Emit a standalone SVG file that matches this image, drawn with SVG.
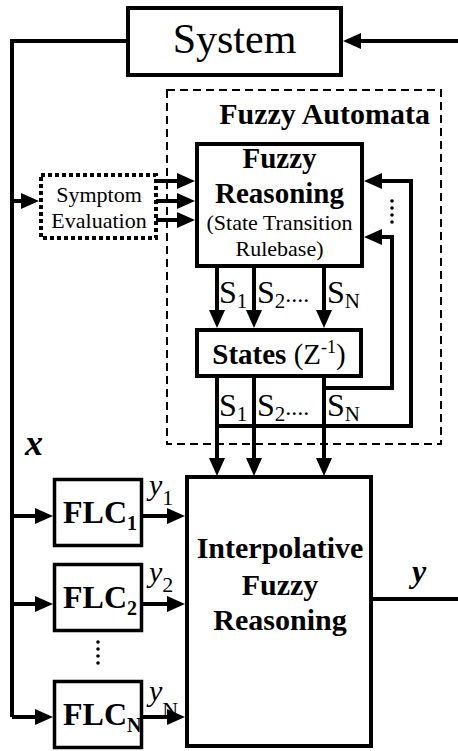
<svg xmlns="http://www.w3.org/2000/svg" width="458" height="751" viewBox="0 0 458 751">
<style>
  text { font-family: "Liberation Serif", "Times New Roman", serif; fill: #000; }
  .b { font-weight: bold; }
  .box { fill: #fff; stroke: #000; stroke-width: 4; }
  .thin { fill: #fff; stroke: #000; stroke-width: 3.5; }
  .ln { fill: none; stroke: #000; stroke-width: 4; }
  .arr { fill: none; stroke: #000; stroke-width: 4; marker-end: url(#ah); }
  .dot { fill: #000; }
</style>
<defs>
  <marker id="ah" markerUnits="userSpaceOnUse" markerWidth="18" markerHeight="16" refX="10" refY="8" orient="auto" overflow="visible">
    <path d="M0,0 L18,8 L0,16 z" fill="#000"/>
  </marker>
</defs>
<rect width="458" height="751" fill="#fff"/>

<g id="fuzzy-automata">
  <rect x="167" y="90" width="274" height="354" fill="none" stroke="#000" stroke-width="2" stroke-dasharray="8,5"/>
  <text class="b" x="430" y="124" font-size="30" text-anchor="end">Fuzzy Automata</text>
</g>

<g id="connectors">
  <path class="ln" d="M126,41 H12 V717"/>
  <path class="arr" d="M458,41 H351"/>
  <path class="arr" d="M12,201 H31"/>
  <path class="arr" d="M156,181 H187"/>
  <path class="arr" d="M156,201 H187"/>
  <path class="arr" d="M156,220 H187"/>
  <path class="arr" d="M217,268 V320"/>
  <path class="arr" d="M254,268 V320"/>
  <path class="arr" d="M324,268 V320"/>
  <path class="arr" d="M217,378 V468"/>
  <path class="arr" d="M254,378 V468"/>
  <path class="arr" d="M324,378 V468"/>
  <path class="arr" d="M217,426 H411 V181 H372"/>
  <path class="arr" d="M324,388 H392 V237 H372"/>
  <path class="arr" d="M12,516 H45"/>
  <path class="arr" d="M12,604 H45"/>
  <path class="arr" d="M12,717 H45"/>
  <path class="arr" d="M143,516 H177"/>
  <path class="arr" d="M143,604 H177"/>
  <path class="arr" d="M143,717 H177"/>
  <path class="ln" d="M373,599 H458"/>
  <circle class="dot" cx="392" cy="201" r="1.8"/>
  <circle class="dot" cx="392" cy="208" r="1.8"/>
  <circle class="dot" cx="392" cy="215" r="1.8"/>
  <circle class="dot" cx="392" cy="222" r="1.8"/>
  <circle class="dot" cx="98" cy="642" r="1.8"/>
  <circle class="dot" cx="98" cy="649" r="1.8"/>
  <circle class="dot" cx="98" cy="656" r="1.8"/>
  <circle class="dot" cx="98" cy="663" r="1.8"/>
  <text x="219" y="303" font-size="32">S<tspan font-size="21" dy="5">1</tspan></text>
  <text x="257" y="303" font-size="32">S<tspan font-size="21" dy="5">2</tspan><tspan font-size="24" dy="-6">....</tspan></text>
  <text x="327" y="303" font-size="32">S<tspan font-size="21" dy="5">N</tspan></text>
  <text x="219" y="416" font-size="32">S<tspan font-size="21" dy="5">1</tspan></text>
  <text x="257" y="416" font-size="32">S<tspan font-size="21" dy="5">2</tspan><tspan font-size="24" dy="-6">....</tspan></text>
  <text x="327" y="416" font-size="32">S<tspan font-size="21" dy="5">N</tspan></text>
  <text class="b" x="25" y="455" font-size="36" font-style="italic">x</text>
  <text x="149" y="495" font-size="30" font-style="italic">y<tspan font-style="normal" font-size="22" dy="10">1</tspan></text>
  <text x="149" y="582" font-size="30" font-style="italic">y<tspan font-style="normal" font-size="22" dy="10">2</tspan></text>
  <text x="149" y="701" font-size="30" font-style="italic">y<tspan font-style="normal" font-size="22" dy="16">N</tspan></text>
  <text class="b" x="412" y="582" font-size="32" font-style="italic">y</text>
</g>

<g id="system">
  <rect class="box" x="128" y="8" width="213" height="67"/>
  <text x="234.5" y="53" font-size="42" text-anchor="middle">System</text>
</g>

<g id="symptom-evaluation">
  <rect x="41" y="175" width="115" height="63" fill="#fff" stroke="#000" stroke-width="4" stroke-dasharray="4,3"/>
  <text x="99" y="202" font-size="22" text-anchor="middle">Symptom</text>
  <text x="99" y="228" font-size="22" text-anchor="middle">Evaluation</text>
</g>

<g id="fuzzy-reasoning">
  <rect class="box" x="197" y="144" width="165" height="122"/>
  <text class="b" x="279.5" y="168" font-size="29" text-anchor="middle">Fuzzy</text>
  <text class="b" x="279.5" y="203" font-size="29" text-anchor="middle">Reasoning</text>
  <text x="279.5" y="230" font-size="22" text-anchor="middle">(State Transition</text>
  <text x="279.5" y="256" font-size="22" text-anchor="middle">Rulebase)</text>
</g>

<g id="states">
  <rect class="box" x="197" y="330" width="164" height="46"/>
  <text x="279" y="364" font-size="29" text-anchor="middle"><tspan font-weight="bold">States</tspan> (Z<tspan font-size="18" dy="-11">-1</tspan><tspan dy="11">)</tspan></text>
</g>

<g id="flc1">
  <rect class="thin" x="54.5" y="479.5" width="87" height="66"/>
  <text class="b" x="63" y="523" font-size="32">FLC<tspan font-size="20" dy="7">1</tspan></text>
</g>
<g id="flc2">
  <rect class="thin" x="54.5" y="564.5" width="87" height="66"/>
  <text class="b" x="63" y="608" font-size="32">FLC<tspan font-size="20" dy="7">2</tspan></text>
</g>
<g id="flcn">
  <rect class="thin" x="54.5" y="681.5" width="87" height="66"/>
  <text class="b" x="63" y="725" font-size="32">FLC<tspan font-size="20" dy="7">N</tspan></text>
</g>

<g id="interpolative">
  <rect class="box" x="187" y="477" width="184" height="269"/>
  <text class="b" x="280" y="558" font-size="30" text-anchor="middle">Interpolative</text>
  <text class="b" x="280" y="595" font-size="30" text-anchor="middle">Fuzzy</text>
  <text class="b" x="280" y="630" font-size="30" text-anchor="middle">Reasoning</text>
</g>
</svg>
